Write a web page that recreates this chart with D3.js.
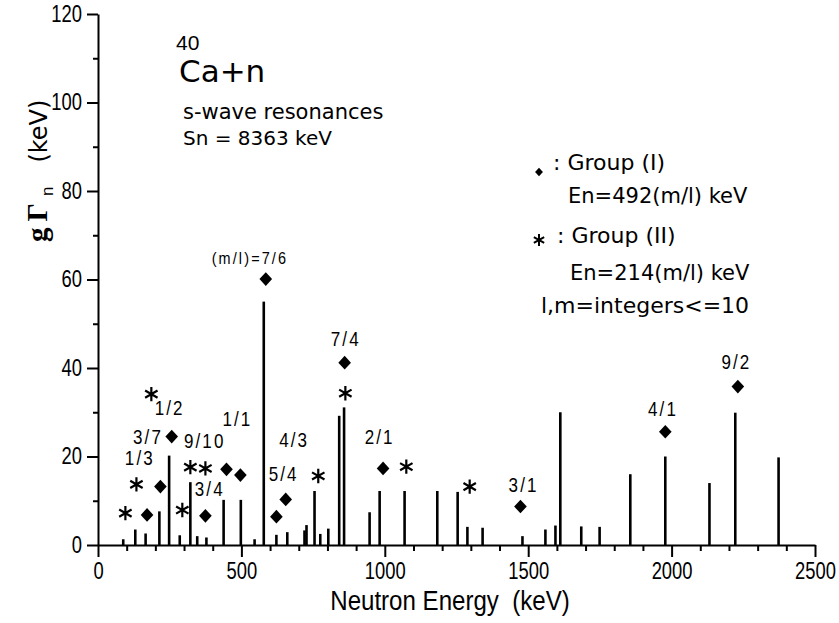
<!DOCTYPE html>
<html>
<head>
<meta charset="utf-8">
<script src="https://cdnjs.cloudflare.com/ajax/libs/d3/7.8.5/d3.min.js"></script>
<style>
  html, body { margin: 0; padding: 0; background: #fff; }
  svg { display: block; }
</style>
</head>
<body>
<svg id="chart" width="839" height="623"></svg>
<script>
// ---- data ----
const barEnergy = [88,130,166,214,248,285,322,346,378,438,498,546,578,622,660,720,727,755,775,803,841,858,947,982,1069,1183,1254,1288,1341,1480,1560,1595,1612,1685,1749,1856,1978,2132,2222,2373];
const barWidth  = [1.3,3.5,2.6,7.6,20.2,2.2,14.2,2.0,1.7,10.2,10.2,1.3,55,2.3,2.9,3.3,4.5,12.2,2.5,3.7,29.2,31.1,7.4,12.2,12.2,12.2,12.0,4.1,3.9,2.0,3.5,4.4,30.0,4.2,4.1,16.0,20.0,14.0,29.9,19.8];

const group1Energy = [171,217.6,257,374.5,448,496.5,585,622,654.5,860,994,1473,1978,2231];
const group1Value  = [6.8,13.2,24.5,6.6,17.1,15.8,60.1,6.4,10.3,41.2,17.3,8.7,25.6,35.8];

const group2Energy = [95.5,134,186,294,322,374.5,768,862.5,1075,1296];
const group2Value  = [7.2,13.7,34.1,7.9,17.6,17.3,15.6,34.3,17.7,13.2];

const labelText   = ["1/3","1/2","3/7","9/10","3/4","1/1","5/4","4/3","(m/l)=7/6","7/4","2/1","3/1","4/1","9/2"];
const labelEnergy = [145.8,250,174.3,372,389.5,486,647.5,684,529.6,864,982,1484,1970,2226];
const labelValue  = [19.7,30.9,24.5,23.5,12.7,28.4,16.0,23.7,64.9,46.5,24.4,13.6,30.7,41.3];

const xMajorTicks = [0,500,1000,1500,2000,2500];
const xMinorTicks = d3.range(0,2501,100).filter(v => v % 500 !== 0);
const yMajorTicks = [0,20,40,60,80,100,120];
const yMinorTicks = [10,30,50,70,90,110];

// ---- layout ----
const svg = d3.select("#chart");
const x = d3.scaleLinear().domain([0,2500]).range([98,815]);
const y = d3.scaleLinear().domain([0,120]).range([545,14]);
const wide = "'DejaVu Sans',Verdana,sans-serif";
const arial = "'Liberation Sans',Arial,sans-serif";
const serif = "'Liberation Serif','Times New Roman',serif";
const squeeze = 0.8;

// minor axes
svg.append("g").attr("transform","translate(0,545)")
  .call(d3.axisBottom(x).tickValues(xMinorTicks).tickSize(6).tickSizeOuter(0).tickFormat(""))
  .call(g => g.select(".domain").remove());
svg.append("g").attr("transform","translate(98,0)")
  .call(d3.axisLeft(y).tickValues(yMinorTicks).tickSize(5).tickSizeOuter(0).tickFormat(""))
  .call(g => g.select(".domain").remove());

// major axes
const xAxis = svg.append("g").attr("transform","translate(0,545)")
  .call(d3.axisBottom(x).tickValues(xMajorTicks).tickSize(12).tickSizeOuter(0).tickPadding(6).tickFormat(d3.format("d")));
const yAxis = svg.append("g").attr("transform","translate(98,0)")
  .call(d3.axisLeft(y).tickValues(yMajorTicks).tickSize(11).tickSizeOuter(0).tickPadding(5).tickFormat(d3.format("d")));

svg.selectAll(".tick line, .domain").attr("stroke","#000").attr("stroke-width",2);
svg.selectAll(".tick text").attr("font-family",arial).attr("font-size",23).attr("fill","#000");
xAxis.selectAll(".tick text").attr("transform",`scale(${squeeze},1)`);
yAxis.selectAll(".tick text").attr("x",-16/squeeze).attr("transform",`scale(${squeeze},1)`);

// bars
svg.append("g").selectAll("line").data(barEnergy).join("line")
  .attr("x1",d => x(d)).attr("x2",d => x(d))
  .attr("y1",y(0)).attr("y2",(d,i) => y(barWidth[i]))
  .attr("stroke","#000").attr("stroke-width",2.6);

// group I diamonds
const diamond = d3.symbol().type(d3.symbolDiamond).size(54);
svg.append("g").selectAll("path").data(group1Energy).join("path")
  .attr("d",diamond)
  .attr("transform",(d,i) => `translate(${x(d)},${y(group1Value[i])}) scale(1.6,1)`)
  .attr("fill","#000");

// group II asterisks
const aster = d3.symbol().type(d3.symbolAsterisk).size(145);
svg.append("g").selectAll("path").data(group2Energy).join("path")
  .attr("d",aster)
  .attr("transform",(d,i) => `translate(${x(d)},${y(group2Value[i])})`)
  .attr("fill","none").attr("stroke","#000").attr("stroke-width",2.2);

// ratio labels
svg.append("g").selectAll("text").data(labelText).join("text")
  .attr("transform",(d,i) => `translate(${x(labelEnergy[i])},${y(labelValue[i])}) scale(0.85,1)`)
  .attr("text-anchor","middle").attr("dominant-baseline","central")
  .attr("font-family",arial).attr("letter-spacing",2.5)
  .attr("font-size",d => d.length > 5 ? 17 : 20)
  .text(d => d);

// title block
svg.append("text").attr("x",176).attr("y",50).attr("font-family",arial).attr("font-size",21).text("40");
svg.append("text").attr("x",179).attr("y",82).attr("font-family",wide).attr("font-size",31).text("Ca+n");
svg.append("text").attr("x",183).attr("y",119).attr("font-family",wide).attr("font-size",21).text("s-wave resonances");
svg.append("text").attr("x",183).attr("y",145).attr("font-family",wide).attr("font-size",20).text("Sn = 8363 keV");

// legend
svg.append("path").attr("d",d3.symbol().type(d3.symbolDiamond).size(21))
  .attr("transform","translate(539,172) scale(1.6,1)").attr("fill","#000");
svg.append("text").attr("x",553).attr("y",170).attr("font-family",wide).attr("font-size",22).text(": Group (I)");
svg.append("text").attr("x",568).attr("y",203).attr("font-family",wide).attr("font-size",21).text("En=492(m/l) keV");
svg.append("path").attr("d",d3.symbol().type(d3.symbolAsterisk).size(100))
  .attr("transform","translate(539,240)").attr("fill","none").attr("stroke","#000").attr("stroke-width",2);
svg.append("text").attr("x",557).attr("y",243).attr("font-family",wide).attr("font-size",22).text(": Group (II)");
svg.append("text").attr("x",570).attr("y",280).attr("font-family",wide).attr("font-size",21).text("En=214(m/l) keV");
svg.append("text").attr("x",541).attr("y",313).attr("font-family",wide).attr("font-size",22).text("l,m=integers<=10");

// axis titles
svg.append("text").attr("transform","translate(450,610) scale(0.86,1)").attr("text-anchor","middle")
  .attr("font-family",arial).attr("font-size",28).attr("xml:space","preserve").text("Neutron Energy  (keV)");

const yt = svg.append("text").attr("transform","translate(47,242) rotate(-90)")
  .attr("font-size",29);
yt.append("tspan").attr("font-family",serif).attr("font-weight","bold").attr("letter-spacing",6).text("gΓ");
yt.append("tspan").attr("font-family",arial).attr("font-size",17).attr("dx",1).attr("dy",6).text("n");
yt.append("tspan").attr("font-family",wide).attr("font-size",24).attr("dx",24).attr("dy",-6).text("(keV)");
</script>
</body>
</html>
